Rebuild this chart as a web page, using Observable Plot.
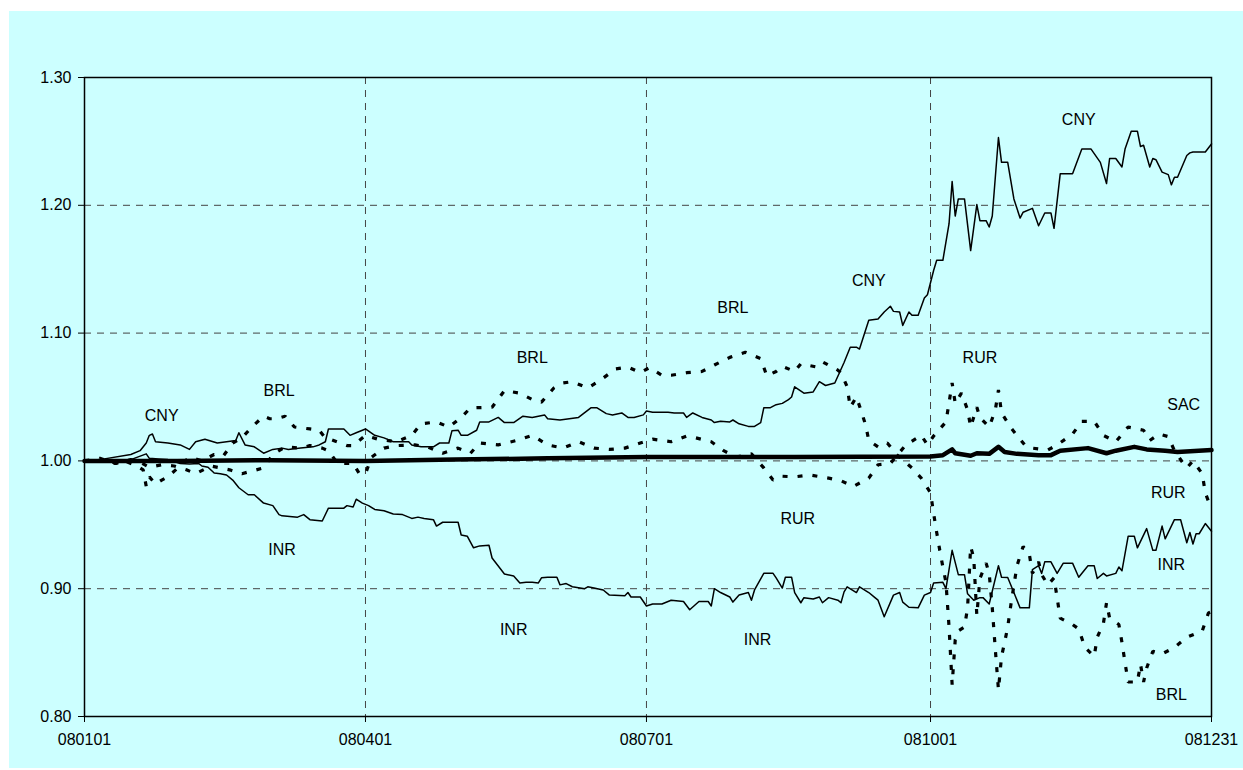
<!DOCTYPE html>
<html>
<head>
<meta charset="utf-8">
<script src="https://cdn.jsdelivr.net/npm/d3@7"></script>
<script src="https://cdn.jsdelivr.net/npm/@observablehq/plot@0.6"></script>
<style>
  body { margin: 0; background: #ffffff; }
  #wrap { position: relative; width: 1243px; height: 770px; }
  #panel { position: absolute; left: 9px; top: 11px; width: 1234px; height: 757px; background: #ccffff; }
  #chart { position: absolute; left: 0; top: 0; }
</style>
</head>
<body>
<div id="wrap"><div id="panel"></div><div id="chart"></div></div>
<script>
// Currency indices vs. start of 2008 (1.00 = 1 Jan 2008); days counted from 1 Jan 2008.

const cnyDay = [0,5,15,18,20,21,22,23,27,31,34,36,39,43,46,49,50,52,55,58,61,64,66,70,74,76,78,79,84,86,88,90,91,94,97,100,105,106,109,113,115,118,119,121,122,124,127,128,131,134,136,139,142,145,149,150,154,160,164,166,169,171,174,176,178,181,182,184,189,191,194,195,197,200,203,204,206,209,210,212,215,217,219,220,222,224,226,228,229,230,233,236,238,240,243,246,248,250,251,254,257,259,261,262,264,265,267,268,270,272,273,275,276,278,280,281,282,283,285,287,289,290,292,293,294,296,297,299,301,303,304,307,309,311,313,314,316,317,320,323,326,329,331,332,334,336,337,339,341,342,343,345,346,347,349,351,352,353,354,357,358,359,363,365];
const cnyValue = [1.000,1.001,1.005,1.008,1.014,1.020,1.021,1.015,1.014,1.0125,1.009,1.015,1.017,1.014,1.015,1.016,1.022,1.0125,1.011,1.006,1.009,1.010,1.009,1.010,1.011,1.0125,1.015,1.025,1.025,1.020,1.022,1.024,1.025,1.020,1.018,1.015,1.015,1.0125,1.011,1.011,1.014,1.014,1.0235,1.024,1.020,1.020,1.024,1.0305,1.0305,1.034,1.030,1.030,1.035,1.034,1.036,1.033,1.032,1.034,1.0415,1.0415,1.037,1.036,1.0375,1.034,1.034,1.036,1.039,1.038,1.038,1.0375,1.0375,1.034,1.0375,1.034,1.032,1.030,1.031,1.0305,1.032,1.029,1.027,1.027,1.030,1.0415,1.0415,1.044,1.045,1.048,1.050,1.058,1.053,1.054,1.062,1.059,1.061,1.077,1.089,1.089,1.0875,1.110,1.111,1.1165,1.121,1.117,1.1165,1.106,1.1165,1.114,1.114,1.1275,1.130,1.149,1.157,1.157,1.1856,1.2186,1.1916,1.205,1.205,1.1646,1.2006,1.188,1.188,1.183,1.1916,1.253,1.2336,1.2336,1.205,1.190,1.1946,1.1976,1.184,1.194,1.194,1.182,1.2246,1.2246,1.2246,1.244,1.244,1.2336,1.217,1.2366,1.2366,1.230,1.244,1.258,1.258,1.246,1.247,1.230,1.2366,1.2357,1.226,1.224,1.216,1.222,1.222,1.239,1.241,1.2417,1.2417,1.248];

const inrDay = [0,5,10,15,20,21,24,27,31,34,37,38,40,42,44,46,48,50,53,55,58,61,63,64,69,71,73,77,79,84,85,87,88,89,90,92,94,97,100,103,106,108,110,113,114,116,121,122,124,126,128,131,132,136,139,141,143,145,147,148,150,153,154,156,158,162,163,165,168,170,175,176,177,180,182,184,187,190,194,196,199,202,203,204,206,209,210,212,215,216,217,220,223,224,226,227,229,230,232,233,236,238,239,241,244,245,246,247,250,251,254,256,257,259,262,264,265,267,270,272,274,275,278,279,281,283,285,286,288,290,291,293,296,297,299,301,303,306,307,309,310,311,313,315,317,320,322,325,327,328,330,331,334,335,336,338,340,341,344,346,347,349,350,353,355,357,358,359,360,361,363,365];
const inrValue = [1.000,1.000,0.999,1.001,1.0055,1.002,1.0015,1.001,0.998,0.9975,0.998,0.996,0.995,0.9905,0.990,0.989,0.985,0.979,0.9735,0.9735,0.967,0.965,0.958,0.957,0.956,0.958,0.954,0.953,0.963,0.963,0.965,0.964,0.970,0.9685,0.967,0.965,0.962,0.961,0.9585,0.958,0.955,0.956,0.955,0.954,0.949,0.952,0.952,0.942,0.941,0.932,0.9335,0.934,0.924,0.9115,0.910,0.9045,0.905,0.905,0.9045,0.9085,0.909,0.909,0.903,0.904,0.9015,0.900,0.9015,0.9005,0.899,0.895,0.8945,0.897,0.8935,0.8935,0.8865,0.888,0.888,0.891,0.890,0.8835,0.890,0.890,0.8865,0.900,0.897,0.8935,0.8895,0.895,0.897,0.891,0.899,0.912,0.912,0.9085,0.9005,0.909,0.909,0.897,0.889,0.893,0.892,0.8935,0.889,0.893,0.891,0.889,0.8975,0.9015,0.897,0.9015,0.897,0.893,0.891,0.878,0.895,0.897,0.8895,0.8855,0.885,0.895,0.897,0.9045,0.905,0.900,0.930,0.911,0.911,0.896,0.891,0.893,0.893,0.888,0.918,0.909,0.9087,0.897,0.885,0.885,0.915,0.918,0.912,0.921,0.921,0.912,0.920,0.920,0.909,0.918,0.918,0.908,0.912,0.910,0.912,0.917,0.914,0.941,0.941,0.932,0.947,0.930,0.930,0.949,0.939,0.954,0.954,0.936,0.944,0.935,0.943,0.943,0.951,0.945];

const brlDay = [0,4,7,10,13,17,19,20,21,23,25,27,30,34,38,42,45,48,51,54,58,60,62,65,68,73,76,78,80,85,87,91,95,101,106,109,114,118,122,125,132,136,141,145,148,152,155,158,163,167,172,176,180,183,187,190,195,200,204,209,214,219,221,224,226,230,232,237,239,244,245,247,248,250,251,253,254,257,260,263,268,271,274,275,276,277,278,279,280,281,282,283,285,286,287,288,289,290,292,293,294,295,296,297,298,299,300,302,304,306,307,309,310,312,314,315,316,320,322,324,327,328,330,331,332,335,336,337,338,341,342,343,344,346,349,353,357,362,364,365];
const brlValue = [1.000,0.999,1.002,0.998,1.000,0.996,0.993,0.980,0.9875,0.982,0.985,0.9875,0.994,1.003,1.000,1.005,1.004,1.014,1.018,1.026,1.035,1.033,1.033,1.035,1.0265,1.025,1.024,1.018,1.0165,1.012,1.012,1.020,1.017,1.015,1.020,1.029,1.0305,1.0265,1.034,1.0415,1.042,1.055,1.053,1.048,1.046,1.057,1.061,1.062,1.057,1.063,1.072,1.0735,1.069,1.073,1.067,1.067,1.069,1.070,1.075,1.081,1.085,1.080,1.0665,1.070,1.074,1.070,1.076,1.0735,1.0775,1.071,1.069,1.058,1.042,1.050,1.043,1.028,1.016,1.011,1.014,1.005,0.9945,0.9865,0.975,0.959,0.944,0.930,0.917,0.905,0.870,0.825,0.860,0.867,0.870,0.885,0.933,0.924,0.879,0.908,0.920,0.912,0.885,0.852,0.821,0.847,0.858,0.870,0.887,0.918,0.933,0.927,0.912,0.921,0.911,0.903,0.9085,0.893,0.877,0.872,0.8685,0.854,0.847,0.862,0.873,0.889,0.877,0.872,0.858,0.842,0.827,0.827,0.841,0.827,0.838,0.851,0.849,0.854,0.862,0.867,0.881,0.882];

const rurDay = [0,5,10,15,18,21,25,29,33,36,41,47,51,58,61,65,70,73,77,79,82,87,89,91,93,97,101,107,111,116,121,125,128,134,140,145,150,155,160,165,170,175,180,184,190,195,198,203,207,211,216,220,223,226,230,235,241,245,249,254,257,261,266,271,273,275,279,280,281,282,284,286,287,289,290,293,295,296,297,300,302,305,307,312,315,320,323,327,330,334,338,343,345,348,351,353,356,357,359,362,363,365];
const rurValue = [1.000,1.002,0.998,1.001,0.999,0.995,0.997,0.996,0.993,0.990,0.996,0.993,0.990,0.9945,1.005,1.011,1.010,1.012,1.010,1.008,0.998,0.998,0.990,0.990,1.003,1.010,1.012,1.0125,1.011,1.006,1.010,1.006,1.014,1.0125,1.016,1.020,1.0125,1.010,1.015,1.010,1.009,1.010,1.014,1.017,1.015,1.0195,1.018,1.015,1.008,1.003,1.0055,0.9945,0.985,0.988,0.9875,0.989,0.9865,0.9845,0.980,0.9865,0.997,0.998,1.0125,1.020,1.0125,1.0195,1.0305,1.0455,1.061,1.045,1.053,1.040,1.0265,1.042,1.034,1.0265,1.040,1.0555,1.0375,1.026,1.020,1.011,1.010,1.0085,1.0125,1.021,1.031,1.031,1.020,1.015,1.0265,1.024,1.016,1.021,1.019,1.008,0.9975,0.9945,1.000,0.990,0.975,0.962];

const sacDay = [0,30,60,91,120,150,182,230,274,278,281,282,287,289,293,296,298,302,309,313,316,325,331,334,340,344,350,354,365];
const sacValue = [1.000,1.000,1.0005,1.000,1.001,1.002,1.003,1.003,1.0035,1.0045,1.009,1.006,1.004,1.006,1.0055,1.011,1.007,1.0055,1.0045,1.0045,1.008,1.010,1.006,1.008,1.011,1.009,1.008,1.007,1.0085];

// Series name annotations placed beside the lines
const labelText  = ["CNY","BRL","BRL","INR","BRL","CNY","RUR","INR","INR","CNY","RUR","SAC","RUR","INR","BRL"];
const labelDay   = [25,63,145,64,210,254,231,139,218,322,290,356,351,352,352];
const labelValue = [1.035,1.055,1.081,0.930,1.120,1.141,0.955,0.868,0.860,1.267,1.081,1.044,0.975,0.919,0.817];

// Axis ticks and grid positions
const xTickDay = [0,91,182,274,365];
const xGridDay = [91,182,274];
const yTicks = [0.80,0.90,1.00,1.10,1.20,1.30];
const yGrid = [0.90,1.00,1.10,1.20];

const start = new Date(Date.UTC(2008, 0, 1));
const toDate = d => d3.utcDay.offset(start, d);
const rows = (days, values) => days.map((d, i) => ({date: toDate(d), value: values[i]}));

const cny = rows(cnyDay, cnyValue);
const inr = rows(inrDay, inrValue);
const brl = rows(brlDay, brlValue);
const rur = rows(rurDay, rurValue);
const sac = rows(sacDay, sacValue);
const labels = labelText.map((t, i) => ({text: t, date: toDate(labelDay[i]), value: labelValue[i]}));

const dotted = {x: "date", y: "value", stroke: "#000", strokeWidth: 3.2, strokeDasharray: "5,10", strokeLinecap: "butt", strokeLinejoin: "miter"};
const thin = {x: "date", y: "value", stroke: "#000", strokeWidth: 1.5};

const chart = Plot.plot({
  width: 1243,
  height: 770,
  marginLeft: 84,
  marginRight: 32,
  marginTop: 77,
  marginBottom: 54,
  style: {background: "transparent", fontFamily: "'Liberation Sans', Arial, sans-serif", fontSize: "16px", color: "#000"},
  x: {type: "utc", domain: [toDate(0), toDate(365)], ticks: xTickDay.map(toDate), tickFormat: d3.utcFormat("%y%m%d"), tickSize: 6, tickPadding: 11, label: null},
  y: {domain: [0.8, 1.3], ticks: yTicks, tickFormat: d3.format(".2f"), tickSize: 6, tickPadding: 7, label: null},
  marks: [
    Plot.ruleY(yGrid, {stroke: "#444", strokeWidth: 1, strokeDasharray: "7,6"}),
    Plot.ruleX(xGridDay.map(toDate), {stroke: "#444", strokeWidth: 1, strokeDasharray: "7,6"}),
    Plot.line(brl, dotted),
    Plot.line(rur, dotted),
    Plot.line(cny, thin),
    Plot.line(inr, thin),
    Plot.line(sac, {x: "date", y: "value", stroke: "#000", strokeWidth: 4.5}),
    Plot.frame({stroke: "#000", strokeWidth: 1.5}),
    Plot.text(labels, {x: "date", y: "value", text: "text", fontSize: 16, fill: "#000"})
  ]
});

document.getElementById("chart").appendChild(chart);
</script>
</body>
</html>
